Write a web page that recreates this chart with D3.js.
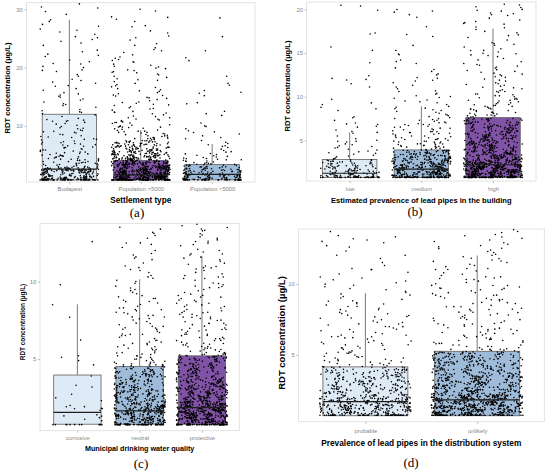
<!DOCTYPE html>
<html><head><meta charset="utf-8">
<script src="https://cdn.jsdelivr.net/npm/d3@7"></script>
<style>body{margin:0;background:#fff}svg{display:block}</style>
</head><body>
<svg id="chart" width="550" height="471"></svg>
<script>
// ---------------- DATA ----------------
const settlementCats = ["Budapest", "Population >5000", "Population <5000"];
const leadBuildingCats = ["low", "medium", "high"];
const waterQualityCats = ["corrosive", "neutral", "protective"];
const distributionCats = ["probable", "unlikely"];

const settlementTicks = [10, 20, 30];
const leadBuildingTicks = [5, 10, 15, 20];
const waterQualityTicks = [5, 10];
const distributionTicks = [5, 10];

// box statistics: lower hinge, median, upper hinge, upper whisker end
const settlementQ1 = [0.75, 0.75, 0.75];
const settlementMedian = [2.6, 1.6, 1.7];
const settlementQ3 = [12.0, 4.1, 3.4];
const settlementUpper = [28.2, 9.3, 6.9];

const leadBuildingQ1 = [0.75, 0.75, 0.75];
const leadBuildingMedian = [1.23, 1.7, 2.2];
const leadBuildingQ3 = [2.8, 3.9, 7.6];
const leadBuildingUpper = [5.9, 8.9, 17.8];

const waterQualityQ1 = [0.78, 0.78, 0.78];
const waterQualityMedian = [1.55, 1.64, 1.85];
const waterQualityQ3 = [3.96, 4.52, 5.2];
const waterQualityUpper = [8.53, 10.15, 11.67];

const distributionQ1 = [0.72, 0.72];
const distributionMedian = [1.71, 1.83];
const distributionQ3 = [4.16, 5.26];
const distributionUpper = [9.35, 12.0];

// detection-limit value and number of samples sitting on it
const lodValue = 0.75;
const settlementLodCounts = [40, 80, 30];
const leadBuildingLodCounts = [25, 45, 55];
const waterQualityLodCounts = [12, 45, 55];
const distributionLodCounts = [50, 65];

// reported concentration levels (µg/L) used by the frequency tables below
const concentrationLevels = [0.8,0.9,1.0,1.1,1.2,1.3,1.4,1.5,1.6,1.7,1.8,1.9,2.0,2.1,2.2,2.3,2.4,2.5,2.6,2.7,2.8,2.9,3.0,3.1,3.2,3.3,3.4,3.5,3.6,3.7,3.8,3.9,4.0,4.1,4.2,4.3,4.4,4.5,4.6,4.7,4.8,4.9,5.0,5.1,5.2,5.3,5.4,5.5,5.6,5.7,5.8,5.9,6.0,6.1,6.2,6.3,6.4,6.5,6.6,6.7,6.8,6.9,7.0,7.1,7.2,7.3,7.4,7.5];

// dense parts: number of samples at each concentration level (starting at 0.8)
const budapestCounts = [12,12,11,10,9,8,6,6,6,6,6,6,7,7,8,9,10,11,11,9,7,5];
const largeSettlementCounts = [18,20,20,19,19,18,18,17,17,16,16,15,15,15,14,14,14,13,13,13,12,12,12,12,11,11,11,11,10,10,10,10,10,9,
  9,9,8,8,8,8,7,7,7,7,7,6,6,6,6,6,6,5,5,5,5,5,5,5,4,4,4,4,4,4,4,4,3,3];
const smallSettlementCounts = [9,8,8,7,7,7,6,6,7,6,5,5,5,5,4,4,4,4,4,4,3,3,3,3,3,3,2];
const lowLeadCounts = [9,8,8,8,8,7,6,6,5,5,5,5,5,4,4,4,4,4,4,3,3];
const mediumLeadCounts = [16,16,15,15,15,14,14,14,13,13,12,12,12,11,11,11,10,10,10,9,9,9,8,8,8,8,7,7,7,7,7,6];
const highLeadCounts = [22,22,21,21,21,20,20,20,20,20,21,22,22,20,18,17,16,15,
  12,12,11,11,11,10,10,10,10,9,9,9,9,9,9,8,8,8,8,8,8,8,8,7,7,
  7,7,7,7,7,7,6,6,6,6,6,6,6,6,6,6,6,5,5,5,5,5,5,5,5];
const corrosiveCounts = [];
const neutralCounts = [18,18,18,18,18,18,18,18,19,20,19,18,17,14,13,13,12,12,12,12,11,11,11,10,9,9,9,8,8,8,8,8,8,7,7,7,7,6];
const protectiveCounts = [24,25,25,25,25,25,25,25,25,26,27,27,26,25,22,16,15,15,14,14,14,14,13,13,13,12,12,12,10,10,10,9,9,9,9,9,9,9,8,8,8,8,8,8,7];
const probableCounts = [20,21,21,21,20,20,20,20,21,22,20,19,18,12,12,12,12,11,11,11,11,11,11,11,10,10,10,10,10,10,10,9,9,9];
const unlikelyCounts = [32,33,33,33,32,32,32,32,32,33,34,34,32,30,28,19,19,18,18,18,18,18,18,17,17,17,17,17,14,14,14,14,13,13,13,13,13,13,13,12,12,12,12,12,12];

// sparse parts: individual measurements (µg/L)
const budapestValues = [30.4,30.9,30.2,29.6,29.1,28.2,27.9,27.4,27.1,26.6,26.1,25.7,25.3,25.1,24.5,24.2,23.8,23.0,22.7,22.3,21.9,21.3,21.0,20.6,20.2,20.0,19.6,19.3,18.8,18.5,18.0,17.5,17.3,16.8,16.4,16.1,15.7,15.3,15.1,14.6,14.4,14.1,13.8,13.5,13.2,12.8,12.6,12.3,12.1,19.5,22.1,16.9,13.7,24.8,20.7,14.9,17.8,12.4,15.5,26.4,
11.9,11.6,11.3,11.1,10.8,10.8,10.6,10.3,10.1,9.9,9.7,9.6,9.3,9.1,8.9,8.8,8.5,8.3,8.2,8.0,7.8,7.7,7.4,7.3,7.1,6.9,6.9,6.7,6.5,6.3,6.2,6.0,5.9,5.8,5.6,5.5,5.4,5.2,5.1,5.0,4.9,4.8,4.7,4.6,4.5,4.4,4.4,4.3,4.2,4.1,4.0,3.9,3.9,3.8,3.7,3.6,3.5,3.5,3.4,3.3,3.3,3.2,3.1,3.0,3.0,9.5,7.6,5.7,4.2,6.4,3.8,8.6,5.3,10.4,4.9,3.6,7.0,6.1,3.4,4.7,5.0,11.0,9.0,3.2,6.6,4.3,8.1,3.7,5.5,7.2,
4.8,3.6,5.3,3.3,6.8,4.1,3.9,5.9,7.7,9.2,10.9,3.1,4.4,6.3];
const largeSettlementValues = [30.0,29.7,28.7,28.3,27.9,27.2,27.0,26.3,25.4,25.1,24.1,23.4,23.1,22.9,22.6,21.8,21.4,21.2,21.0,20.9,20.6,20.4,20.2,28.6,25.9,22.2,24.7,21.6,23.8,20.1,
19.9,19.8,19.6,19.5,19.3,19.1,18.9,18.7,18.3,18.1,17.9,17.6,17.3,17.1,16.9,16.6,16.4,16.2,15.9,15.7,15.5,15.3,15.1,14.9,14.7,14.5,14.3,14.1,13.9,13.7,13.5,13.3,13.1,12.9,12.7,12.5,12.3,12.1,19.2,17.8,16.0,15.2,14.0,13.0,12.4,18.5,16.7,14.8,13.6,12.2,
11.9,11.7,11.6,11.4,11.2,11.1,10.9,10.8,10.6,10.6,10.4,10.2,10.1,9.9,9.8,9.8,9.6,9.5,9.3,9.2,9.1,9.0,8.9,8.8,8.7,8.6,8.5,8.4,8.3,8.3,8.1,8.0,7.9,7.8,7.8,7.7,7.6,
11.0,10.0,9.4,8.2,10.5,9.7,8.9,7.9,8.5,9.1,9.8,10.7,11.4,8.0,7.8];
const smallSettlementValues = [28.5,25.3,22.9,21.7,21.2,18.5,17.3,17.0,16.1,15.8,15.6,15.2,14.0,13.8,12.5,12.1,11.8,10.5,10.0,9.9,9.5,9.2,9.0,8.9,8.3,8.0,7.8,7.2,7.0,6.8,6.6,6.3,6.0,5.8,5.6,5.3,5.1,5.0,4.9,4.7,4.6,4.5,4.4,4.3,4.2,4.1,4.0,3.9,3.8,3.7,3.6,3.5,5.5,4.8,4.4,4.0,3.7,6.5,7.5,8.6,3.6,4.2,5.2];

const lowLeadValues = [20.5,20.4,19.9,17.3,17.2,15.7,15.3,13.9,12.4,12.1,12.0,11.9,11.5,11.1,9.7,9.3,9.1,8.8,8.6,8.4,7.7,7.6,7.3,7.0,6.9,6.8,6.6,6.2,6.0,5.8,5.5,5.2,5.0,4.9,4.8,4.6,4.5,4.3,4.2,4.1,4.0,3.8,3.6,3.5,3.4,3.3,3.2,3.1,3.0,2.9,5.9,4.4,3.7,6.5,4.9,3.9];
const mediumLeadValues = [20.0,19.8,19.7,19.4,19.1,18.0,17.1,16.9,15.9,15.3,14.9,14.8,14.2,13.8,13.3,13.1,12.9,12.5,12.2,12.1,11.8,11.6,11.3,11.1,10.9,10.6,10.4,10.3,10.1,10.0,9.8,9.6,9.5,9.3,9.1,8.9,8.8,8.6,8.5,8.3,8.2,8.0,7.9,7.8,7.6,7.5,7.4,7.3,7.1,7.0,6.9,6.8,6.7,6.5,6.4,6.3,6.2,6.1,6.0,5.9,5.8,5.7,5.6,5.5,5.4,5.3,5.2,5.1,5.0,4.9,4.8,4.7,4.6,4.5,4.4,4.3,4.2,4.1,4.0,8.7,7.7,6.6,5.9,5.3,4.8,4.4,4.1,7.2,6.0,5.1,4.6,4.3,9.9,6.8,5.5,4.9,4.2,11.9,7.0,
4.1,4.3,4.6,4.9,5.3,5.7,6.2,6.8,7.5,8.4,4.2,4.4,4.7,5.1,5.5,6.0,6.5,7.3,8.1,9.4,10.7,12.6,14.0,4.5,4.8,5.2,5.8,6.4];
const highLeadValues = [20.6,20.5,20.2,20.0,19.8,19.6,19.5,19.3,19.0,18.8,18.5,18.4,18.3,17.9,17.5,17.3,17.1,16.8,16.5,16.2,15.9,15.7,15.5,15.3,15.1,14.9,14.6,14.4,14.2,14.0,13.8,13.6,13.5,13.3,13.1,12.9,12.7,12.5,12.4,12.2,12.0,11.8,11.6,11.4,11.3,11.1,10.9,10.8,10.6,10.5,10.3,10.2,10.0,9.9,9.8,9.6,9.5,9.4,9.2,9.1,9.0,8.9,8.8,8.7,8.6,8.5,8.4,8.3,8.2,8.1,8.0,7.9,7.8,7.7,19.9,18.0,16.0,14.7,13.0,11.5,10.1,9.3,8.6,8.0,17.7,15.0,12.6,10.7,9.7,8.9,8.2,7.8,
7.7,7.9,8.1,8.4,8.7,9.0,9.3,9.7,10.1,10.6,11.2,11.9,12.8,13.7,14.8,16.1,7.8,8.2,8.6,9.1,9.6,10.3,11.0,12.3,13.4,15.3,17.0,18.6,19.4,20.3];

const corrosiveValues = [12.6,9.8,8.5,7.7,6.2,5.2,5.1,4.9,4.6,3.9,3.3,3.2,2.7,2.5,2.3,1.9,1.9,1.8,1.8,1.7,1.4,1.3,1.3,1.2,1.1,1.0,1.8,2.0];
const neutralValues = [13.5,13.2,13.1,13.0,12.8,12.5,12.2,12.0,11.8,11.7,11.5,11.4,11.2,11.0,10.9,10.7,10.6,10.4,10.2,10.0,9.9,9.7,9.6,9.4,9.3,9.2,9.0,8.9,8.8,8.7,8.6,8.5,8.4,8.3,8.2,8.1,8.0,7.9,7.8,7.7,7.6,7.5,7.4,7.3,7.2,7.1,7.0,6.9,6.8,6.7,6.6,6.5,6.4,6.3,6.2,6.1,6.0,5.9,5.8,5.7,5.6,5.5,5.4,5.3,5.2,5.1,5.0,4.9,4.8,4.7,4.6,4.55,9.1,8.0,7.0,6.0,5.4,5.0,4.7,12.4,10.3,8.7,7.6,6.6,5.8,5.2,4.8,4.6,
4.6,4.7,4.8,4.9,5.0,5.2,5.4,5.6,5.9,6.2,6.5,6.9,7.3,7.8,8.3,8.9,9.5,10.1,10.8,11.6,12.5,13.4,4.65,4.85,5.1,5.3,5.7,6.1,6.6,7.1,7.7,8.2];
const protectiveValues = [13.7,13.6,13.4,13.3,13.1,12.9,12.8,12.6,12.4,12.3,12.1,11.9,11.8,11.6,11.5,11.3,11.1,11.0,10.8,10.7,10.5,10.4,10.2,10.1,9.9,9.8,9.7,9.5,9.4,9.3,9.1,9.0,8.9,8.8,8.7,8.5,8.4,8.3,8.2,8.1,8.0,7.9,7.8,7.7,7.6,7.5,7.4,7.3,7.2,7.1,7.0,6.9,6.8,6.7,6.6,6.5,6.4,6.3,6.2,6.1,6.0,5.9,5.8,5.7,5.6,5.5,5.4,5.3,5.25,
13.0,12.0,11.2,10.3,9.6,8.6,7.9,7.3,6.8,6.3,5.9,5.5,12.7,10.9,9.2,8.0,7.0,6.4,5.8,5.4,11.4,9.9,8.4,7.5,6.6,6.0,5.6,10.6,8.8,7.7,6.9,6.2,5.7,5.3,
5.3,5.4,5.6,5.8,6.0,6.3,6.6,6.9,7.3,7.7,8.1,8.6,9.1,9.7,10.3,11.0,11.8,12.6,13.5,5.35,5.5,5.7,5.95,6.2,6.5,6.85,7.2,7.6,8.0,8.5,9.0,9.6,10.2,10.9,11.7,12.5,13.3];

const probableValues = [13.7,13.4,13.3,13.2,13.0,12.9,12.6,12.3,12.0,11.8,11.5,11.3,11.1,10.8,10.5,10.4,10.3,10.1,10.0,9.9,9.8,9.7,9.6,9.4,9.2,9.0,8.9,8.8,8.7,8.6,8.5,8.4,8.3,8.2,8.1,8.0,7.9,7.8,7.7,7.6,7.5,7.4,7.3,7.2,7.1,7.0,6.9,6.8,6.7,6.6,6.5,6.4,6.3,6.2,6.1,6.0,5.9,5.8,5.7,5.6,5.5,5.4,5.3,5.2,5.1,5.0,4.9,4.8,4.7,4.6,4.5,4.4,4.3,4.2,
12.7,11.0,9.3,8.6,7.9,7.0,6.2,5.7,5.1,4.6,4.3,10.7,8.4,7.6,6.6,5.8,5.2,4.8,4.4,9.1,7.3,6.3,5.5,4.9,4.5,
4.2,4.3,4.5,4.7,4.9,5.1,5.4,5.7,6.0,6.4,6.8,7.2,7.7,8.2,8.8,9.5,10.2,11.0,12.0,13.1,4.25,4.4,4.6,4.85,5.2,5.5,5.9,6.3,7.0,7.8];
const unlikelyValues = [13.8,13.7,13.5,13.4,13.2,13.0,12.9,12.8,12.6,12.5,12.3,12.2,12.0,11.9,11.8,11.6,11.5,11.3,11.2,11.0,10.9,10.8,10.6,10.5,10.4,10.3,10.1,10.0,9.9,9.8,9.7,9.6,9.5,9.4,9.3,9.2,9.1,9.0,8.9,8.8,8.7,8.6,8.5,8.4,8.3,8.2,8.1,8.0,7.9,7.8,7.7,7.6,7.5,7.4,7.3,7.2,7.1,7.0,6.9,6.8,6.7,6.6,6.5,6.4,6.3,6.2,6.1,6.0,5.9,5.8,5.7,5.6,5.5,5.4,5.3,
13.1,12.1,11.1,10.2,9.6,9.0,8.4,7.8,7.2,6.7,6.2,5.8,5.4,12.7,11.4,10.7,9.9,9.2,8.6,8.0,7.5,7.0,6.5,6.1,5.7,5.35,11.7,10.4,9.7,8.9,8.2,7.6,6.8,6.4,6.0,5.6,5.4,
5.3,5.4,5.5,5.7,5.9,6.1,6.3,6.6,6.9,7.2,7.6,8.0,8.4,8.9,9.4,9.9,10.5,11.1,11.8,12.5,13.3,5.35,5.45,5.6,5.8,6.0,6.2,6.5,6.8,7.1,7.4,7.8,8.2,8.7,9.2,9.7,10.3,11.0,11.6,12.4,13.6];

// ---------------- PRESENTATION ----------------
const LIGHT = "#deebf7", MEDIUM = "#9ebcda", PURPLE = "#8053a6";
const SANS = "'Liberation Sans', Arial, Helvetica, sans-serif";

const panels = [
  { id: "a", cats: settlementCats, ticks: settlementTicks, q1: settlementQ1, med: settlementMedian, q3: settlementQ3, up: settlementUpper,
    lod: settlementLodCounts, values: [budapestValues, largeSettlementValues, smallSettlementValues],
    counts: [budapestCounts, largeSettlementCounts, smallSettlementCounts],
    fills: [LIGHT, PURPLE, MEDIUM], left: 26.5, right: 255, top: 2.7, bottom: 182, yDomain: [0.39, 31.12],
    yTitle: { x: 7.5, y: 88, size: 7.6 }, xTitle: { text: "Settlement type", y: 200.5, size: 8.2 },
    tickLabelY: 188.5, caption: { x: 137, y: 212 } },
  { id: "b", cats: leadBuildingCats, ticks: leadBuildingTicks, q1: leadBuildingQ1, med: leadBuildingMedian, q3: leadBuildingQ3, up: leadBuildingUpper,
    lod: leadBuildingLodCounts, values: [lowLeadValues, mediumLeadValues, highLeadValues],
    counts: [lowLeadCounts, mediumLeadCounts, highLeadCounts],
    fills: [LIGHT, MEDIUM, PURPLE], left: 306.7, right: 536, top: 2, bottom: 181, yDomain: [0.34, 20.85],
    yTitle: { x: 287, y: 86, size: 7.6 }, xTitle: { text: "Estimated prevalence of lead pipes in the building", y: 200.5, size: 7.6 },
    tickLabelY: 188.5, caption: { x: 415, y: 211 } },
  { id: "c", cats: waterQualityCats, ticks: waterQualityTicks, q1: waterQualityQ1, med: waterQualityMedian, q3: waterQualityQ3, up: waterQualityUpper,
    lod: waterQualityLodCounts, values: [corrosiveValues, neutralValues, protectiveValues],
    counts: [corrosiveCounts, neutralCounts, protectiveCounts],
    fills: [LIGHT, MEDIUM, PURPLE], left: 40, right: 239.3, top: 223.3, bottom: 430.7, yDomain: [0.36, 13.77],
    yTitle: { x: 22.5, y: 322, size: 6.4 }, xTitle: { text: "Municipal drinking water quality", y: 448, size: 7.2 },
    tickLabelY: 438.3, caption: { x: 141, y: 463 } },
  { id: "d", cats: distributionCats, ticks: distributionTicks, q1: distributionQ1, med: distributionMedian, q3: distributionQ3, up: distributionUpper,
    lod: distributionLodCounts, values: [probableValues, unlikelyValues],
    counts: [probableCounts, unlikelyCounts],
    fills: [LIGHT, MEDIUM], left: 298.3, right: 544.3, top: 229, bottom: 421.7, yDomain: [0.30, 13.87],
    yTitle: { x: 281, y: 333, size: 9.5 }, xTitle: { text: "Prevalence of lead pipes in the distribution system", y: 443, size: 8.3 },
    tickLabelY: 430.7, caption: { x: 411, y: 462 } }
];

const svg = d3.select("#chart");

// deterministic integer hash -> [0,1): stands in for geom_jitter's scatter of positions
function hash01(n) {
  n = (n ^ 61) ^ (n >>> 16);
  n = Math.imul(n, 9);
  n ^= n >>> 4;
  n = Math.imul(n, 0x27d4eb2d);
  n ^= n >>> 15;
  return (n >>> 0) / 4294967296;
}

panels.forEach((p, pi) => {
  const x = d3.scalePoint().domain(p.cats).range([p.left, p.right]).padding(0.6);
  const y = d3.scaleLinear().domain(p.yDomain).range([p.bottom, p.top]);
  const step = x.step();
  const bw = step * 0.76;
  const g = svg.append("g");

  const clipId = "clip-" + p.id;
  svg.append("clipPath").attr("id", clipId).append("rect")
    .attr("x", p.left).attr("y", p.top).attr("width", p.right - p.left).attr("height", p.bottom - p.top);

  g.append("rect").attr("x", p.left).attr("y", p.top).attr("width", p.right - p.left).attr("height", p.bottom - p.top)
    .attr("fill", "#fff").attr("stroke", "#dcdcdc").attr("stroke-width", 0.8);

  const boxes = p.cats.map((c, i) => ({ c, i, q1: p.q1[i], med: p.med[i], q3: p.q3[i], up: p.up[i], fill: p.fills[i] }));

  const inner = g.append("g").attr("clip-path", `url(#${clipId})`);
  inner.selectAll("rect.box").data(boxes).join("rect").attr("class", "box")
    .attr("x", d => x(d.c) - bw / 2).attr("width", bw)
    .attr("y", d => y(d.q3)).attr("height", d => y(d.q1) - y(d.q3))
    .attr("fill", d => d.fill).attr("stroke", "#5e5e5e").attr("stroke-width", 0.8);
  inner.selectAll("line.wh").data(boxes).join("line").attr("class", "wh")
    .attr("x1", d => x(d.c)).attr("x2", d => x(d.c))
    .attr("y1", d => y(d.q3)).attr("y2", d => y(d.up))
    .attr("stroke", "#6a6a6a").attr("stroke-width", 0.9);

  const pts = [];
  p.cats.forEach((c, i) => {
    const vals = p.values[i].map(v => ({ v, h: 0.04 }))
      .concat(p.counts[i].flatMap((n, j) => d3.range(n).map(() => ({ v: concentrationLevels[j], h: 0.1 }))))
      .concat(d3.range(p.lod[i]).map(() => ({ v: lodValue, h: 0 })));
    const seed = (pi * 7 + i + 1) * 1000003;
    vals.forEach((d, k) => {
      const jx = (hash01(seed + k * 2) - 0.5) * 2 * 0.41 * step;
      const jy = (hash01(seed + k * 2 + 1) - 0.5) * d.h;
      pts.push({ c, v: d.v + jy, jx });
    });
  });
  inner.selectAll("circle").data(pts).join("circle")
    .attr("cx", d => x(d.c) + d.jx).attr("cy", d => y(d.v)).attr("r", 0.8).attr("fill", "#000");

  inner.selectAll("line.med").data(boxes).join("line").attr("class", "med")
    .attr("x1", d => x(d.c) - bw / 2).attr("x2", d => x(d.c) + bw / 2)
    .attr("y1", d => y(d.med)).attr("y2", d => y(d.med))
    .attr("stroke", "#1e1e1e").attr("stroke-width", 1.2);

  const ya = g.append("g").attr("transform", `translate(${p.left},0)`)
    .call(d3.axisLeft(y).tickValues(p.ticks).tickSize(2.2).tickPadding(1.5).tickFormat(d3.format("d")));
  ya.select(".domain").remove();
  ya.selectAll("line").attr("stroke", "#9a9a9a").attr("stroke-width", 0.6);
  ya.selectAll("text").attr("fill", "#858585").style("font-size", "5.8px").style("font-family", SANS);

  const xa = g.append("g").attr("transform", `translate(0,${p.bottom})`)
    .call(d3.axisBottom(x).tickSize(2.2).tickPadding(1));
  xa.select(".domain").remove();
  xa.selectAll("line").attr("stroke", "#9a9a9a").attr("stroke-width", 0.6);
  xa.selectAll("text").attr("fill", "#858585").style("font-size", "5.8px").style("font-family", SANS)
    .attr("y", null).attr("dy", null).attr("transform", `translate(0,${p.tickLabelY - p.bottom})`)
    .attr("dominant-baseline", "central");

  svg.append("text").attr("transform", `translate(${p.yTitle.x},${p.yTitle.y}) rotate(-90)`)
    .attr("text-anchor", "middle").attr("dominant-baseline", "central")
    .style("font-family", SANS).style("font-weight", "bold").style("font-size", p.yTitle.size + "px")
    .text("RDT concentration (µg/L)");
  svg.append("text").attr("x", (p.left + p.right) / 2).attr("y", p.xTitle.y)
    .attr("text-anchor", "middle").attr("dominant-baseline", "central")
    .style("font-family", SANS).style("font-weight", "bold").style("font-size", p.xTitle.size + "px")
    .text(p.xTitle.text);
  svg.append("text").attr("x", p.caption.x).attr("y", p.caption.y)
    .attr("text-anchor", "middle").attr("dominant-baseline", "central")
    .style("font-family", "'Liberation Serif', 'DejaVu Serif', serif").style("font-size", "13px")
    .text(`(${p.id})`);
});
</script>
</body></html>
